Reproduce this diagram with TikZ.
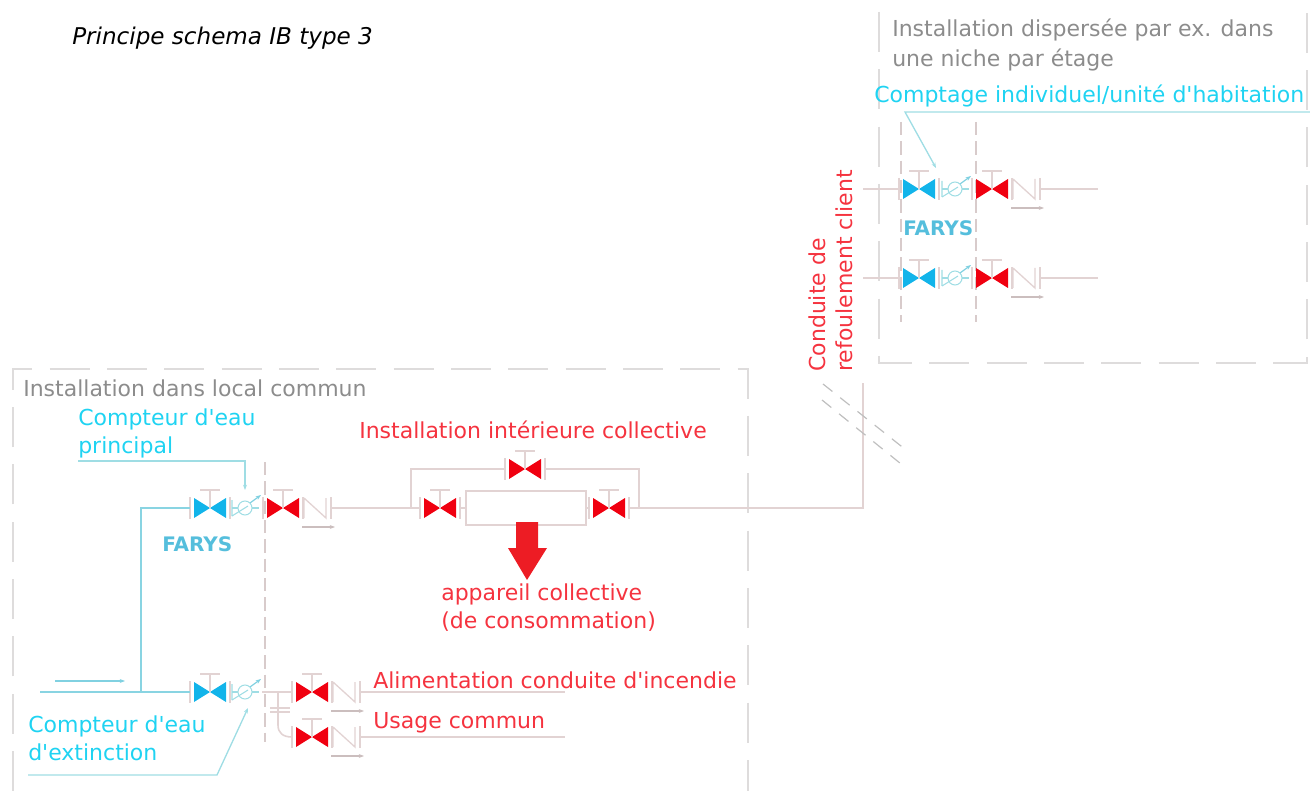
\documentclass[tikz,border=0pt]{standalone}
\usepackage{fontspec}
\newfontfamily\labfont{DejaVu Sans}
\usetikzlibrary{arrows.meta}
\definecolor{pipe}{HTML}{E2D3D3}
\definecolor{frame}{HTML}{DEDCDC}
\definecolor{valveblue}{HTML}{12B4EA}
\definecolor{valvered}{HTML}{F00010}
\definecolor{leader}{HTML}{9FDDE4}
\definecolor{cyantext}{HTML}{1FD3F2}
\definecolor{redtext}{HTML}{F5333F}
\definecolor{graytext}{HTML}{8C8C8C}
\definecolor{farys}{HTML}{55BEDC}
\definecolor{fleshrouge}{HTML}{ED1C24}
\tikzset{
    pipeline/.style={pipe,line width=1.2pt},
    feedline/.style={leader!70!farys,line width=1.3pt},
    cadre/.style={frame,line width=1.1pt,dash pattern=on 30pt off 13pt},
    axe/.style={pipe!90!gray,line width=1.4pt,dash pattern=on 10pt off 4.5pt},
    coupure/.style={gray!50,line width=.9pt,dash pattern=on 9pt off 7.5pt},
    fleche/.style={-{Stealth[length=4pt,width=3pt]}},
    lab/.style={anchor=base west,inner sep=0pt,font=\labfont\fontsize{16.5}{19}\selectfont},
    labcyan/.style={lab,text=cyantext},
    labred/.style={lab,text=redtext},
    labgray/.style={lab,text=graytext},
    labfarys/.style={anchor=base west,inner sep=0pt,text=farys,font=\labfont\fontsize{15}{17}\selectfont\bfseries},
    valve/.pic={
        \fill[#1] (-16,-10) -- (0,0) -- (-16,10) -- cycle;
        \fill[#1] (16,-10) -- (0,0) -- (16,10) -- cycle;
        \draw[pipe,line width=1pt] (0,0) -- (0,-18) (-10,-18) -- (10,-18);
        \draw[pipe,line width=1pt] (-20,-11) -- (-20,11) (20,-11) -- (20,11);
        \coordinate (-in) at (-20,0);
        \coordinate (-out) at (20,0);
    },
    meter/.pic={
        \draw[leader,line width=.8pt] (-13,-8) -- (-13,8) (0,0) circle (7);
        \draw[leader,line width=.8pt] (-13,8) -- (3,-2);
        \draw[leader,line width=.8pt] (-13,0) -- (-7,0) (7,0) -- (14,0);
        \draw[leader!60!farys,line width=.9pt,fleche] (5,-5) -- (16,-13);
    },
    nonreturn/.pic={
        \draw[pipe,line width=1pt] (-12,-10) -- (-12,10) (-12,-10) -- (10,10) -- (10,-10);
        \draw[pipe,line width=1pt] (15,-11) -- (15,11);
        \draw[pipe!90!black,line width=1pt,fleche] (-14,19) -- (19,19);
        \coordinate (-out) at (15,0);
    },
}
\begin{document}
\begin{tikzpicture}[x=.75pt,y=-.75pt]
    \useasboundingbox (0,0) rectangle (1310,791);
    % cadres
    \draw[cadre] (13,791) -- (13,369) -- (748,369) -- (748,791);
    \draw[cadre] (879,12) -- (879,363) -- (1307,363) -- (1307,12);
    \draw[axe] (901,122) -- (901,322);
    \draw[axe] (976,122) -- (976,322);
    \draw[axe] (265,462) -- (265,742);
    % appareils
    \coordinate (feedin) at (40,692);
    \coordinate (feedtee) at (141,692);
    \coordinate (feedtop) at (141,508);
    \pic (vhaut) at (210,508) {valve=valveblue};
    \pic at (245,508) {meter};
    \pic (rhaut) at (283,508) {valve=valvered};
    \pic (chaut) at (316,508) {nonreturn};
    \pic (vgauche) at (440,508) {valve=valvered};
    \pic (vdroite) at (609,508) {valve=valvered};
    \pic (vbypass) at (525,469) {valve=valvered};
    \pic (vbas) at (210,692) {valve=valveblue};
    \pic at (245,692) {meter};
    \pic (rinc) at (312,692) {valve=valvered};
    \pic (cinc) at (345,692) {nonreturn};
    \pic (rcom) at (312,737) {valve=valvered};
    \pic (ccom) at (345,737) {nonreturn};
    \foreach \y/\n in {189/a,278/b} {
        \pic (ve\n) at (919,\y) {valve=valveblue};
        \pic at (955,\y) {meter};
        \pic (re\n) at (992,\y) {valve=valvered};
        \pic (ce\n) at (1025,\y) {nonreturn};
        \coordinate (ent\n) at (863,\y);
        \coordinate (fin\n) at (1098,\y);
        \draw[pipeline] (ent\n) -- (ve\n-in);
        \draw[pipeline] (ce\n-out) -- (fin\n);
    }
    % conduites
    \draw[feedline] (feedin) -- (vbas-in);
    \draw[feedline] (feedtee) -- (feedtop) -- (vhaut-in);
    \coordinate (sortie) at (863,508);
    \coordinate (montee) at (863,383);
    \coordinate (boxnw) at (466,491);
    \coordinate (boxse) at (586,525);
    \coordinate (bpg) at (411,508);
    \coordinate (bpd) at (639,508);
    \draw[pipeline] (chaut-out) -- (vgauche-in);
    \draw[pipeline] (vgauche-out) -- (466,508);
    \draw[pipeline] (586,508) -- (vdroite-in);
    \draw[pipeline] (vdroite-out) -- (sortie) -- (montee);
    \draw[pipeline] (boxnw) rectangle (boxse);
    \draw[pipeline] (bpg) |- (vbypass-in);
    \draw[pipeline] (bpd) |- (vbypass-out);
    \coordinate (finc) at (565,692);
    \coordinate (fcom) at (565,737);
    \coordinate (depart) at (262,692);
    \coordinate (branche) at (278,692);
    \draw[pipeline] (cinc-out) -- (finc);
    \draw[pipeline] (ccom-out) -- (fcom);
    \draw[pipeline] (depart) -- (rinc-in);
    \draw[pipeline] (branche) -- (278,725) .. controls (278,733) and (283,737) .. (rcom-in);
    \draw[pipeline,line width=.8pt] (270,708) -- (290,708) (270,712) -- (290,712);
    % coupure
    \draw[coupure] (823,384) -- (906,450);
    \draw[coupure] (822,400) -- (906,468);
    % fleches
    \draw[leader!60!farys,line width=1pt,fleche] (55,681) -- (125,681);
    \fill[fleshrouge] (516,522) -- (538,522) -- (538,548) -- (547,548) -- (527,580) -- (508,548) -- (516,548) -- cycle;
    \draw[leader,line width=1pt,fleche] (78,461) -- (245,461) -- (245,490);
    \draw[leader,line width=1pt,fleche] (28,775) -- (217,775) -- (248,708);
    \draw[leader,line width=1pt,fleche] (1310,112) -- (905,112) -- (936,168);
    % textes
    \node[lab,text=black,font=\labfont\fontsize{17.3}{19}\selectfont\itshape] (titre) at (72,45) {Principe schema IB type 3};
    \node[labgray] (txtdisp) at (892,37) {Installation dispersée par ex. dans};
    \node[labgray] (txtniche) at (892,67) {une niche par étage};
    \node[labcyan] (txtcompt) at (874,103) {Comptage individuel/unité d'habitation};
    \node[labfarys] (farysa) at (903,236) {FARYS};
    \node[labfarys] (farysb) at (162,551) {FARYS};
    \node[labgray] (txtlocal) at (23,397) {Installation dans local commun};
    \node[labcyan] (txtprinc) at (78,426) {Compteur d'eau};
    \node[labcyan] (txtprincb) at (78,454) {principal};
    \node[labred] (txtcoll) at (359,439) {Installation intérieure collective};
    \node[labred] (txtapp) at (441,600) {appareil collective};
    \node[labred] (txtconso) at (441,628) {(de consommation)};
    \node[labred] (txtinc) at (373,688) {Alimentation conduite d'incendie};
    \node[labred] (txtusage) at (373,728) {Usage commun};
    \node[labcyan] (txtext) at (28,732) {Compteur d'eau};
    \node[labcyan] (txtextb) at (28,760) {d'extinction};
    \node[labred,rotate=90] (txtcond) at (825,372) {Conduite de};
    \node[labred,rotate=90] (txtrefo) at (852,372) {refoulement client};
\end{tikzpicture}
\end{document}
